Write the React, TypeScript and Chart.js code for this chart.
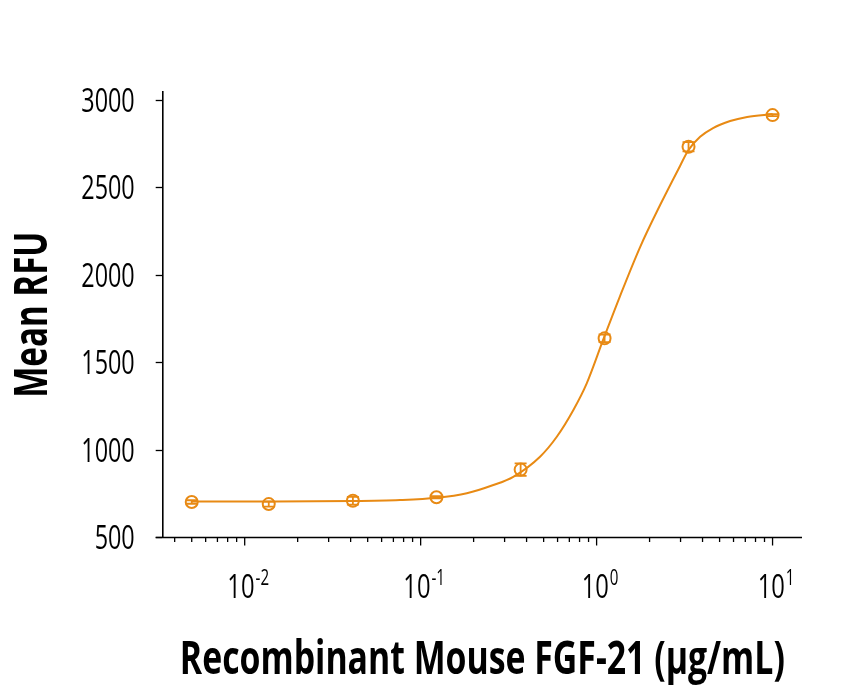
import { useEffect, useRef } from "react";
import { Chart, registerables } from "chart.js";

Chart.register(...registerables);

// measured points (mean +/- sem)
const doses = [0.005, 0.0137, 0.0412, 0.123, 0.37, 1.11, 3.33, 10];
const meanRfu = [703, 691, 710, 730, 888, 1638, 2733, 2914];
const sem = [10, 14, 22, 6, 36, 22, 26, 6];

// fitted curve
const fitDoses = [
  0.005, 0.0137, 0.0412, 0.0763, 0.1235, 0.183, 0.259, 0.336, 0.477, 0.594, 0.738, 0.879,
  1.089, 1.359, 1.767, 2.296, 2.985, 3.314, 3.875, 4.59, 5.74, 7.17, 10,
];
const fitRfu = [
  706, 706, 708, 714, 727, 753, 800, 847, 962, 1076, 1229, 1381,
  1629, 1880, 2160, 2400, 2625, 2712, 2790, 2840, 2880, 2903, 2920,
];

const yTicks = [500, 1000, 1500, 2000, 2500, 3000];
const decades = [0.01, 0.1, 1, 10];
const decadeExps = ["-2", "-1", "0", "1"];
const xTitle = "Recombinant Mouse FGF-21 (\u03bcg/mL)";
const yTitle = "Mean RFU";

const ORANGE = "#E88A14";
const FONT = "'Open Sans', 'Noto Sans', sans-serif";

// minor ticks 4..9 x 10^-3, then 2..9 x each decade up to 10
const xTickValues = () => {
  const out: { value: number; major: boolean }[] = [];
  for (let m = 4; m <= 9; m++) out.push({ value: m * 0.001, major: false });
  decades.forEach((d, i) => {
    out.push({ value: d, major: true });
    if (i < decades.length - 1) for (let m = 2; m <= 9; m++) out.push({ value: m * d, major: false });
  });
  return out;
};

// condensed text: squeeze horizontally around the anchor (original uses a condensed face)
function text(ctx: any, s: string, x: number, y: number, font: string, align: string, sq: number, rot = 0) {
  ctx.save();
  ctx.translate(x, y);
  if (rot) ctx.rotate(rot);
  ctx.scale(sq, 1);
  ctx.font = font;
  ctx.textAlign = align;
  ctx.textBaseline = "alphabetic";
  ctx.fillText(s, 0, 0);
  ctx.restore();
}

function textWidth(ctx: any, s: string, font: string, sq: number) {
  ctx.font = font;
  return ctx.measureText(s).width * sq;
}

const axesPlugin = {
  id: "axesExtra",
  afterDraw(chart: any) {
    const { ctx, chartArea, scales } = chart;
    const xs = scales.x;
    const ys = scales.y;
    ctx.save();
    ctx.strokeStyle = "#000";
    ctx.fillStyle = "#000";
    ctx.lineWidth = 1.6;
    ctx.beginPath();
    ctx.moveTo(chartArea.left - 7, chartArea.bottom);
    ctx.lineTo(chartArea.right, chartArea.bottom);
    ctx.stroke();
    ctx.lineWidth = 1.3;
    xs.ticks.forEach((t: any) => {
      const px = xs.getPixelForValue(t.value);
      ctx.beginPath();
      ctx.moveTo(px, chartArea.bottom);
      ctx.lineTo(px, chartArea.bottom + (t.major ? 8 : 4.5));
      ctx.stroke();
    });

    // x decade labels with superscript exponent
    const big = `500 33px ${FONT}`;
    const small = `500 21px ${FONT}`;
    decades.forEach((d, i) => {
      const px = xs.getPixelForValue(d);
      const w1 = textWidth(ctx, "10", big, 0.72);
      const w2 = textWidth(ctx, decadeExps[i], small, 0.72);
      const x0 = px - (w1 + w2) / 2 + 3;
      text(ctx, "10", x0, 598, big, "left", 0.72);
      text(ctx, decadeExps[i], x0 + w1 + 1, 585, small, "left", 0.72);
    });

    // y tick labels
    yTicks.forEach((v) => {
      const py = ys.getPixelForValue(v);
      text(ctx, String(v), chartArea.left - 28, py + 11.5, `500 32px ${FONT}`, "right", 0.73);
    });

    // axis titles
    const titleFont = `bold 46px ${FONT}`;
    text(ctx, xTitle, (chartArea.left + chartArea.right) / 2, 674, titleFont, "center", 0.735);
    text(ctx, yTitle, 47, (chartArea.top + chartArea.bottom) / 2, titleFont, "center", 0.72, -Math.PI / 2);
    ctx.restore();
  },
};

const errorBarPlugin = {
  id: "errorBars",
  afterDatasetsDraw(chart: any) {
    const { ctx, scales } = chart;
    const meta = chart.getDatasetMeta(1);
    ctx.save();
    ctx.strokeStyle = ORANGE;
    ctx.lineWidth = 1.8;
    meta.data.forEach((pt: any, i: number) => {
      const top = scales.y.getPixelForValue(meanRfu[i] + sem[i]);
      const bot = scales.y.getPixelForValue(meanRfu[i] - sem[i]);
      ctx.beginPath();
      ctx.moveTo(pt.x, top);
      ctx.lineTo(pt.x, bot);
      ctx.moveTo(pt.x - 6, top);
      ctx.lineTo(pt.x + 6, top);
      ctx.moveTo(pt.x - 6, bot);
      ctx.lineTo(pt.x + 6, bot);
      ctx.stroke();
    });
    ctx.restore();
  },
};

export default function App() {
  const canvasRef = useRef<HTMLCanvasElement>(null);

  useEffect(() => {
    document.body.style.margin = "0";
    if (!canvasRef.current) return;
    const chart = new Chart(canvasRef.current, {
      type: "scatter",
      data: {
        datasets: [
          {
            label: "Fit",
            data: fitDoses.map((x, i) => ({ x, y: fitRfu[i] })),
            showLine: true,
            borderColor: ORANGE,
            borderWidth: 2,
            pointRadius: 0,
            cubicInterpolationMode: "monotone",
          },
          {
            label: "Mean RFU",
            data: doses.map((x, i) => ({ x, y: meanRfu[i] })),
            showLine: false,
            pointRadius: 6,
            pointBorderWidth: 2,
            pointBorderColor: ORANGE,
            pointBackgroundColor: "rgba(0,0,0,0)",
          },
        ],
      },
      options: {
        responsive: false,
        animation: false,
        layout: { padding: { top: 92, right: 40, left: 0, bottom: 0 } },
        plugins: { legend: { display: false }, tooltip: { enabled: false } },
        scales: {
          x: {
            type: "logarithmic",
            min: 0.00342,
            max: 14.7,
            afterBuildTicks: (s: any) => {
              s.ticks = xTickValues();
            },
            afterFit: (s: any) => {
              s.height = 152.5;
            },
            grid: { display: false },
            border: { display: false },
            ticks: { display: false, autoSkip: false },
          },
          y: {
            min: 500,
            max: 3046,
            afterBuildTicks: (s: any) => {
              s.ticks = yTicks.map((v) => ({ value: v }));
            },
            afterFit: (s: any) => {
              s.width = 162.7;
            },
            grid: { drawOnChartArea: false, tickLength: 7, tickWidth: 1.3, tickColor: "#000" },
            border: { display: true, color: "#000", width: 1.6 },
            ticks: { display: false },
          },
        },
      },
      plugins: [axesPlugin, errorBarPlugin],
    });
    return () => chart.destroy();
  }, []);

  return <canvas ref={canvasRef} width={842} height={690} style={{ display: "block" }} />;
}
